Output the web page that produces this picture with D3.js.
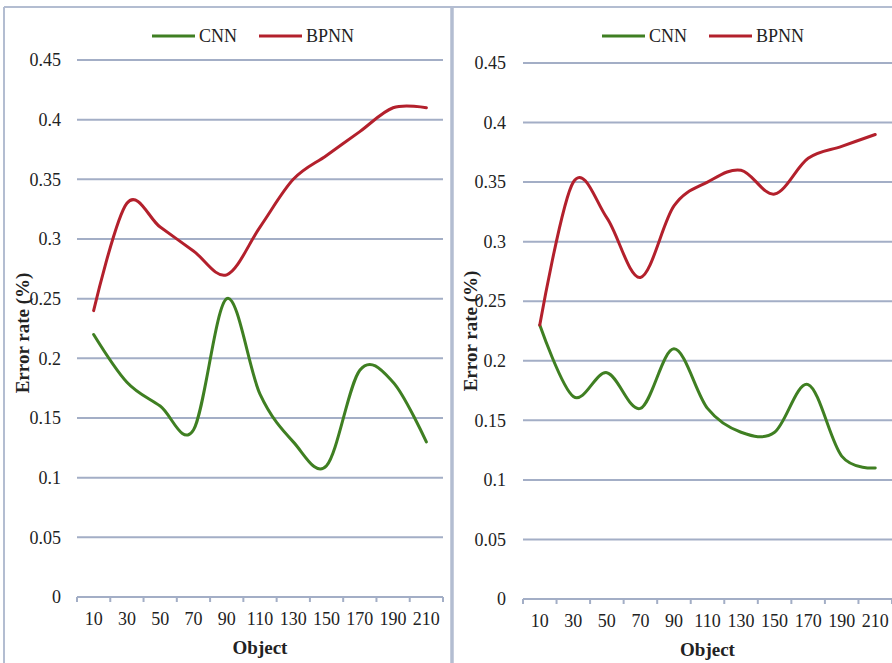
<!DOCTYPE html>
<html>
<head>
<meta charset="utf-8">
<script src="https://cdn.jsdelivr.net/npm/d3@7"></script>
<style>
  html, body { margin: 0; padding: 0; background: #ffffff; }
  svg { display: block; }
  svg text { font-family: "Liberation Serif", "Times New Roman", Tinos, "DejaVu Serif", "Noto Serif", serif !important; fill: #222; }
</style>
</head>
<body>
<svg id="chart" width="892" height="663"></svg>
<script>
// ---- data ----
const categories = ["10","30","50","70","90","110","130","150","170","190","210"];
const yTicks = [0, 0.05, 0.1, 0.15, 0.2, 0.25, 0.3, 0.35, 0.4, 0.45];
const yTickLabels = ["0","0.05","0.1","0.15","0.2","0.25","0.3","0.35","0.4","0.45"];
const seriesNames = ["CNN", "BPNN"];
const cnnLeft   = [0.22, 0.18, 0.16, 0.14, 0.25, 0.17, 0.13, 0.11, 0.19, 0.18, 0.13];
const bpnnLeft  = [0.24, 0.33, 0.31, 0.29, 0.27, 0.31, 0.35, 0.37, 0.39, 0.41, 0.41];
const cnnRight  = [0.23, 0.17, 0.19, 0.16, 0.21, 0.16, 0.14, 0.14, 0.18, 0.12, 0.11];
const bpnnRight = [0.23, 0.35, 0.32, 0.27, 0.33, 0.35, 0.36, 0.34, 0.37, 0.38, 0.39];
const xTitle = "Object";
const yTitle = "Error rate (%)";

const colors = { CNN: "#3f7f22", BPNN: "#b3202c" };
const gridColor = "#a3aec6";
const borderColor = "#b3bdd1";
const FONT = '"Liberation Serif", "Times New Roman", Tinos, "DejaVu Serif", serif';

const svg = d3.select("#chart");

// panel borders
svg.append("line").attr("x1", 4).attr("x2", 4).attr("y1", 7).attr("y2", 663)
  .attr("stroke", borderColor).attr("stroke-width", 2);
svg.append("line").attr("x1", 4).attr("x2", 892).attr("y1", 7).attr("y2", 7)
  .attr("stroke", borderColor).attr("stroke-width", 2);
svg.append("line").attr("x1", 452).attr("x2", 452).attr("y1", 6).attr("y2", 663)
  .attr("stroke", borderColor).attr("stroke-width", 3.5);

const panels = [
  { cnn: cnnLeft, bpnn: bpnnLeft, x0: 77, x1: 443, yTop: 60, yBot: 597,
    yLabX: 61, yTitleX: 22, yTitleY: 333, legendX: 152, legendY: 36, xLabY: 626, xTitleY: 654 },
  { cnn: cnnRight, bpnn: bpnnRight, x0: 523, x1: 892, yTop: 63, yBot: 599,
    yLabX: 506, yTitleX: 470, yTitleY: 331, legendX: 602, legendY: 36, xLabY: 628, xTitleY: 656 }
];

panels.forEach(p => {
  const g = svg.append("g");
  const x = d3.scaleBand().domain(categories).range([p.x0, p.x1]).padding(0);
  const y = d3.scaleLinear().domain([0, 0.45]).range([p.yBot, p.yTop]);

  // gridlines
  g.selectAll(".grid").data(yTicks).enter().append("line")
    .attr("x1", p.x0).attr("x2", p.x1)
    .attr("y1", d => y(d)).attr("y2", d => y(d))
    .attr("stroke", gridColor).attr("stroke-width", 2);

  // y axis labels
  const yAxis = d3.axisLeft(y).tickValues(yTicks)
    .tickFormat((d, i) => yTickLabels[i]).tickSize(0).tickPadding(0);
  const ya = g.append("g").attr("transform", `translate(${p.yLabX},0)`).call(yAxis)
    .attr("font-family", FONT);
  ya.select(".domain").remove();
  ya.selectAll("text").attr("font-size", 18).attr("fill", "#222").style("font-family", FONT);

  // x axis labels
  const xAxis = d3.axisBottom(x).tickSize(0).tickPadding(0);
  const xa = g.append("g").attr("transform", `translate(0,${p.xLabY - 14})`).call(xAxis)
    .attr("font-family", FONT);
  xa.select(".domain").remove();
  xa.selectAll("text").attr("font-size", 18).attr("fill", "#222").style("font-family", FONT);

  // x tick marks at band boundaries
  const bounds = categories.map(c => x(c)).concat([x(categories[categories.length - 1]) + x.bandwidth()]);
  g.selectAll(".xt").data(bounds).enter().append("line")
    .attr("x1", d => d).attr("x2", d => d)
    .attr("y1", y(0)).attr("y2", y(0) + 5)
    .attr("stroke", gridColor).attr("stroke-width", 2);

  // lines
  const line = d3.line()
    .x((d, i) => x(categories[i]) + x.bandwidth() / 2)
    .y(d => y(d))
    .curve(d3.curveCardinal.tension(0));
  [["CNN", p.cnn], ["BPNN", p.bpnn]].forEach(([name, vals]) => {
    g.append("path").datum(vals).attr("d", line)
      .attr("fill", "none").attr("stroke", colors[name])
      .attr("stroke-width", 3).attr("stroke-linecap", "round").attr("stroke-linejoin", "round");
  });

  // titles
  g.append("text").attr("x", (p.x0 + p.x1) / 2).attr("y", p.xTitleY)
    .attr("text-anchor", "middle").attr("font-size", 19).attr("font-weight", "bold")
    .style("font-family", FONT).text(xTitle);
  g.append("text")
    .attr("transform", `translate(${p.yTitleX + 7},${p.yTitleY}) rotate(-90)`)
    .attr("text-anchor", "middle").attr("font-size", 19).attr("font-weight", "bold")
    .style("font-family", FONT).text(yTitle);

  // legend
  const lg = g.append("g").attr("transform", `translate(${p.legendX},${p.legendY})`);
  const offsets = [0, 107];
  seriesNames.forEach((name, i) => {
    lg.append("line").attr("x1", offsets[i]).attr("x2", offsets[i] + 43)
      .attr("y1", 0).attr("y2", 0)
      .attr("stroke", colors[name]).attr("stroke-width", 3);
    lg.append("text").attr("x", offsets[i] + 47).attr("y", 6)
      .attr("font-size", 18).style("font-family", FONT).text(name);
  });
});
</script>
</body>
</html>
